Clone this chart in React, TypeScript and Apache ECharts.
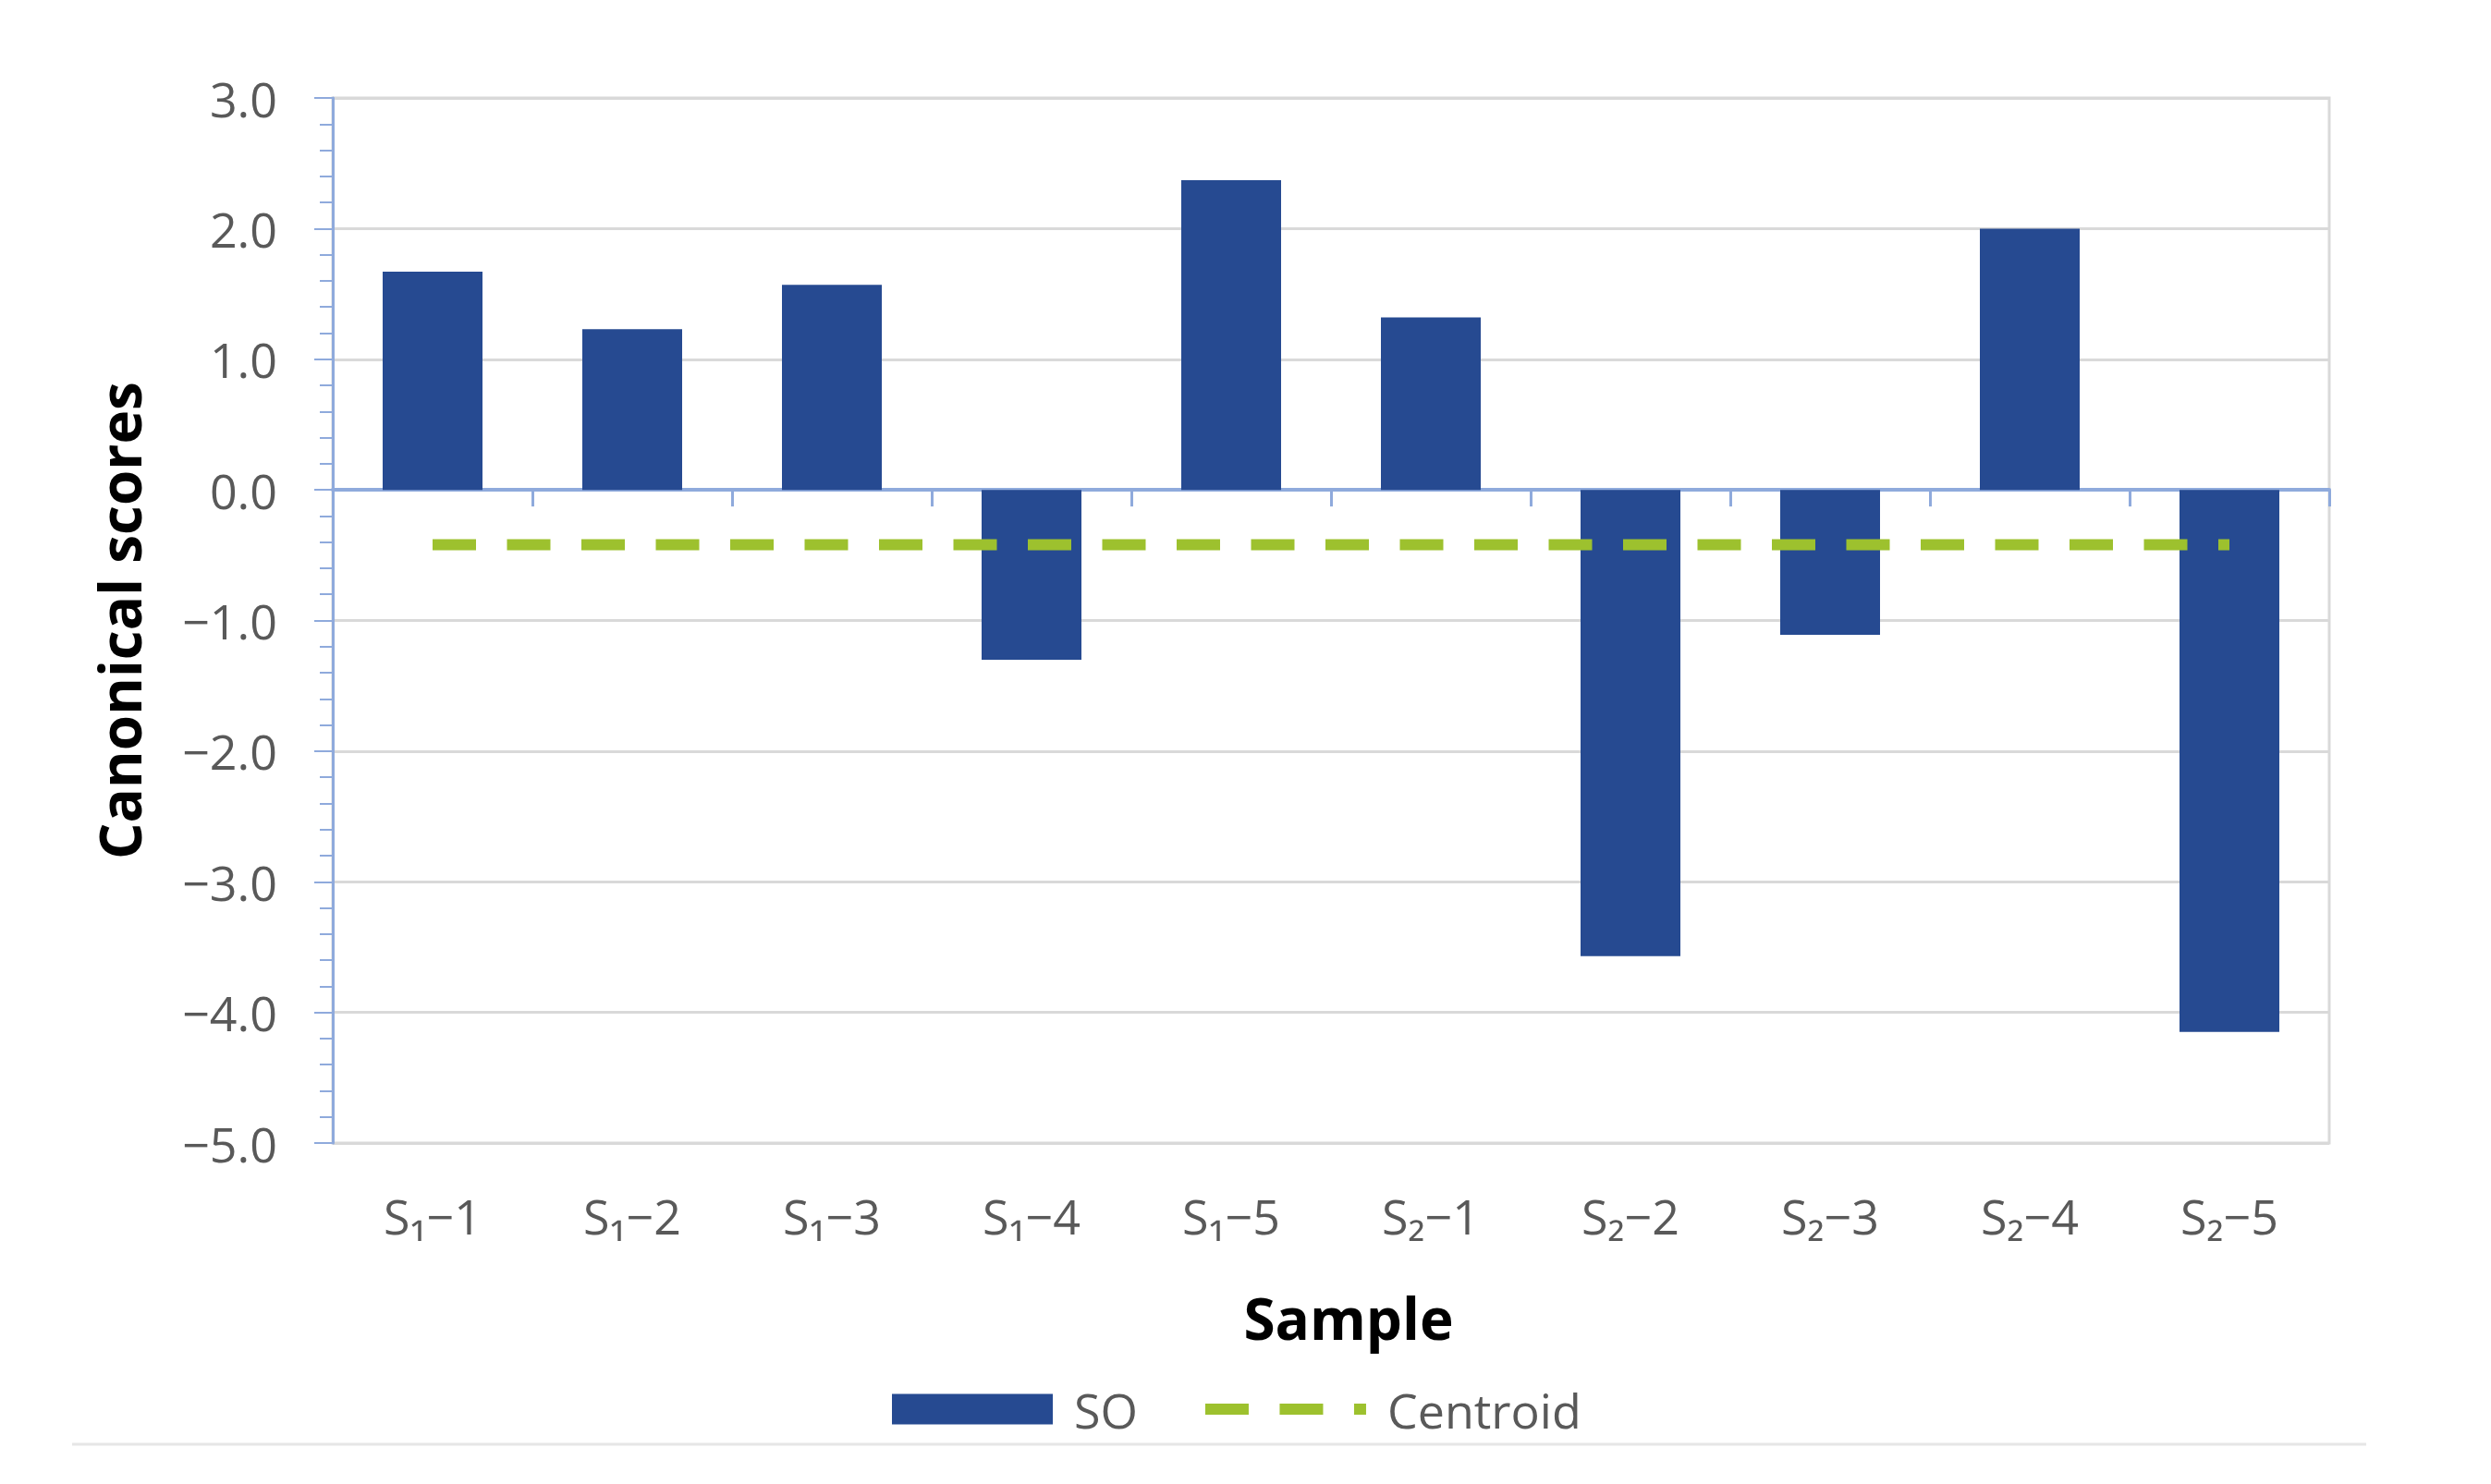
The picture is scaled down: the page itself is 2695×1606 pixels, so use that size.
import React, { useEffect, useRef } from "react";
import * as echarts from "echarts";

const categories = ["S₁−1", "S₁−2", "S₁−3", "S₁−4", "S₁−5", "S₂−1", "S₂−2", "S₂−3", "S₂−4", "S₂−5"];
const soValues = [1.67, 1.23, 1.57, -1.3, 2.37, 1.32, -3.57, -1.11, 2.0, -4.15];
const centroidValues = [-0.42, -0.42, -0.42, -0.42, -0.42, -0.42, -0.42, -0.42, -0.42, -0.42];
const yMin = -5;
const yMax = 3;
const yInterval = 1;

const FONT = "'Open Sans', 'DejaVu Sans', sans-serif";
const BAR = "#264A91";
const GREEN = "#9DC12E";
const AXIS_BLUE = "#8FAADC";
const GRID = "#D9D9D9";
const TEXT = "#595959";

const DASH_ICON =
  "path://M0,10.5h47v12h-47z M80.5,10.5h47v12h-47z M161,10.5h13v12h-13z M0,0h0.05v0.05h-0.05z M173.95,32.95h0.05v0.05h-0.05z";

function fmt(v: number): string {
  const s = Math.abs(v).toFixed(1);
  return v < 0 ? "−" + s : s;
}

export default function App() {
  const ref = useRef<HTMLDivElement>(null);
  useEffect(() => {
    if (!ref.current) return;
    const chart = echarts.init(ref.current, undefined, { renderer: "svg" });
    chart.setOption({
      animation: false,
      backgroundColor: "#ffffff",
      textStyle: { fontFamily: FONT },
      grid: {
        left: 360,
        right: 175,
        top: 106,
        bottom: 369,
        show: true,
        borderColor: GRID,
        borderWidth: 3,
        backgroundColor: "transparent",
      },
      legend: {
        left: 965,
        top: 1499,
        padding: 0,
        itemGap: 73,
        itemWidth: 174,
        itemHeight: 33,
        textStyle: { fontFamily: FONT, fontSize: 52, color: TEXT, padding: [0, 0, 0, 18] },
        data: [
          { name: "SO", icon: "rect", itemStyle: { color: BAR } },
          {
            name: "Centroid",
            icon: DASH_ICON,
            itemStyle: { color: GREEN, borderWidth: 0 },
            lineStyle: { width: 0, opacity: 0 },
          },
        ],
      },
      xAxis: [
        {
          type: "category",
          data: categories,
          position: "bottom",
          axisLine: { show: false, onZero: false },
          axisTick: { show: false },
          axisLabel: { fontFamily: FONT, fontSize: 52, color: TEXT, margin: 52 },
          name: "Sample",
          nameLocation: "middle",
          nameGap: 158,
          nameTextStyle: {
            fontFamily: FONT,
            fontSize: 62,
            fontWeight: "bold",
            color: "#000000",
            padding: [0, 0, 0, 38],
          },
        },
        {
          type: "category",
          data: categories,
          position: "top",
          axisLine: { show: true, onZero: true, lineStyle: { color: AXIS_BLUE, width: 4 } },
          axisTick: { show: true, inside: true, length: 18, lineStyle: { color: AXIS_BLUE, width: 3 } },
          axisLabel: { show: false },
          splitLine: { show: false },
        },
      ],
      yAxis: {
        type: "value",
        min: yMin,
        max: yMax,
        interval: yInterval,
        axisLine: { show: true, lineStyle: { color: AXIS_BLUE, width: 3 } },
        axisTick: { show: true, length: 20, lineStyle: { color: AXIS_BLUE, width: 2 } },
        minorTick: { show: true, splitNumber: 5, length: 14, lineStyle: { color: AXIS_BLUE, width: 2 } },
        splitLine: { show: true, lineStyle: { color: GRID, width: 3 } },
        axisLabel: { fontFamily: FONT, fontSize: 52, color: TEXT, margin: 60, formatter: (v: number) => fmt(v) },
        name: "Canonical scores",
        nameLocation: "middle",
        nameGap: 200,
        nameTextStyle: { fontFamily: FONT, fontSize: 62, fontWeight: "bold", color: "#000000" },
      },
      series: [
        {
          name: "SO",
          type: "bar",
          data: soValues,
          barWidth: "50%",
          itemStyle: { color: BAR },
          z: 1,
        },
        {
          name: "Centroid",
          type: "line",
          data: centroidValues,
          symbol: "none",
          lineStyle: { color: GREEN, width: 12, type: [47, 33.5] },
          itemStyle: { color: GREEN },
          z: 3,
        },
      ],
      graphic: [
        {
          type: "line",
          shape: { x1: 78, y1: 1563, x2: 2560, y2: 1563 },
          style: { stroke: "#E6E6E6", lineWidth: 3 },
        },
      ],
    });
    return () => chart.dispose();
  }, []);
  return (
    <div
      ref={ref}
      style={{ position: "absolute", left: 0, top: 0, width: 2695, height: 1606 }}
    />
  );
}
